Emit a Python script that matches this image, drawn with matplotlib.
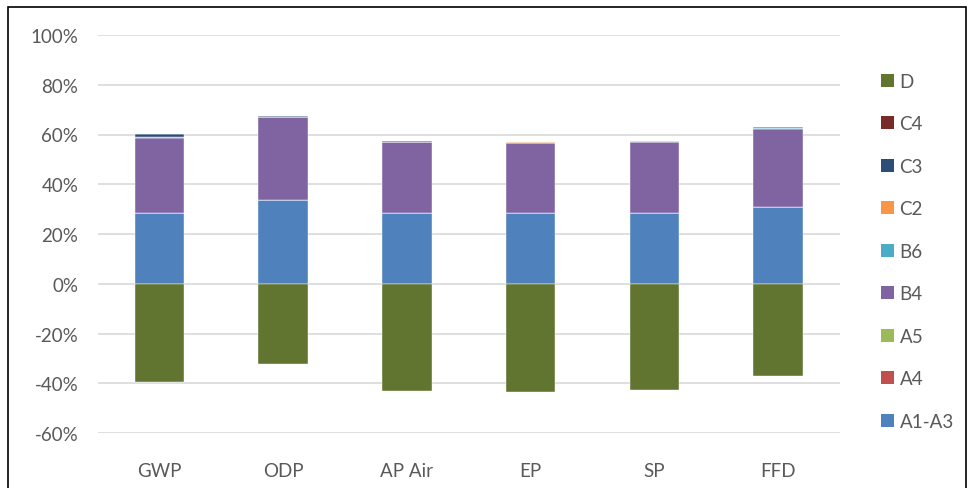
import matplotlib
matplotlib.use("Agg")
import matplotlib.pyplot as plt
from matplotlib.patches import Patch, Rectangle
from matplotlib.ticker import FuncFormatter, MultipleLocator
import numpy as np

categories = ["GWP", "ODP", "AP Air", "EP", "SP", "FFD"]
series_names = ["A1-A3", "A4", "A5", "B4", "B6", "C2", "C3", "C4"]
a1_a3 = [28.4, 33.5, 28.4, 28.4, 28.4, 30.8]
a4 = [0.1, 0.02, 0.1, 0.05, 0.1, 0.1]
a5 = [0.1, 0.02, 0.05, 0.05, 0.05, 0.05]
b4 = [30.0, 33.6, 28.5, 28.2, 28.5, 31.4]
b6 = [0.4, 0.01, 0.05, 0.05, 0.05, 0.3]
c2 = [0.05, 0.01, 0.05, 0.05, 0.1, 0.1]
c3 = [1.3, 0.4, 0.1, 0.1, 0.1, 0.2]
c4 = [0.05, 0.01, 0.05, 0.05, 0.1, 0.05]
d = [-39.5, -32.4, -43.0, -43.4, -42.8, -37.1]

colors = {
    "A1-A3": "#4F81BD", "A4": "#C0504D", "A5": "#9BBB59", "B4": "#8064A2",
    "B6": "#4BACC6", "C2": "#F79646", "C3": "#2C4D75", "C4": "#772C2A", "D": "#617430",
}

plt.rcParams['font.family'] = ['Lato', 'DejaVu Sans']
fig = plt.figure(figsize=(9.69, 4.89), dpi=100)
ax = fig.add_axes([97.6/969, 1-434/489, (840-97.6)/969, (434-36)/489])

x = np.arange(len(categories))
w = 0.4
bottom = np.zeros(len(categories))
pos_series = [a1_a3, a4, a5, b4, b6, c2, c3, c4]
for name, vals in zip(series_names, pos_series):
    v = np.array(vals) / 100
    ax.bar(x, v, w, bottom=bottom, color=colors[name], edgecolor="white", linewidth=0.3, zorder=3)
    bottom += v
ax.bar(x, np.array(d) / 100, w, color=colors["D"], edgecolor="white", linewidth=0.3, zorder=3)

ax.set_xlim(-0.5, len(categories) - 0.5)
ax.set_ylim(-0.6, 1.0)
ax.yaxis.set_major_locator(MultipleLocator(0.2))
ax.yaxis.set_major_formatter(FuncFormatter(lambda v, p: f"{v*100:.0f}%"))
ax.grid(axis="y", color="#D9D9D9", linewidth=1.2, zorder=0)
for s in ax.spines.values():
    s.set_visible(False)
ax.set_xticks(x)
ax.set_xticklabels(categories)
ax.tick_params(axis="both", length=0, labelsize=13.5, colors="#595959")
ax.tick_params(axis="y", pad=14)
ax.tick_params(axis="x", pad=21)

handles = [Patch(facecolor=colors[n], edgecolor="none") for n in ["D"] + series_names[::-1]]
labels = ["D"] + series_names[::-1]
leg = fig.legend(handles, labels, loc="upper left", bbox_to_anchor=(864/969, 1-57/489),
                 frameon=False, fontsize=13.5, labelspacing=1.36, handlelength=0.7,
                 handleheight=0.7, handletextpad=0.3, labelcolor="#595959")

fig.patches.append(Rectangle((8/969, -0.05), (966-8)/969, 1.05 - 8/489, transform=fig.transFigure,
                             fill=False, edgecolor="black", linewidth=1.2))

fig.savefig("out.png", dpi=100)
